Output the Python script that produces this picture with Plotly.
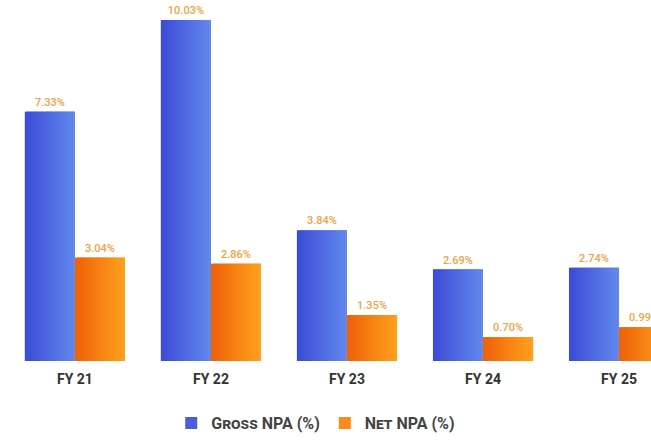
import plotly.graph_objects as go

# Asset quality by fiscal year
years = ["FY 21", "FY 22", "FY 23", "FY 24", "FY 25"]
gross_npa = [7.33, 10.03, 3.84, 2.69, 2.74]
net_npa = [3.04, 2.86, 1.35, 0.70, 0.99]

BAR_W = 0.368
N_STRIPES = 24


def blend(c1, c2, t):
    return "rgb({},{},{})".format(*[round(a + (b - a) * t) for a, b in zip(c1, c2)])


def add_series(fig, name, values, offset, dark, light, legend_color):
    labels = [f"{v:.2f}%" for v in values]
    # base bar carries the value label and the legend entry
    fig.add_trace(go.Bar(
        x=years, y=values, name=name, width=BAR_W, offset=offset,
        marker=dict(color=legend_color, line=dict(width=0)),
        text=labels, textposition="outside", cliponaxis=False,
        textfont=dict(color="#f2a246", size=11, family="Roboto", weight=500),
        hoverinfo="skip",
    ))
    # horizontal shading built from thin overlapping slices of the same bar
    sw = BAR_W / N_STRIPES
    for i in range(N_STRIPES):
        w = sw * 2 if i < N_STRIPES - 1 else sw
        fig.add_trace(go.Bar(
            x=years, y=values, width=w, offset=offset + i * sw,
            marker=dict(color=blend(dark, light, i / (N_STRIPES - 1)), line=dict(width=0)),
            showlegend=False, hoverinfo="skip",
        ))


fig = go.Figure()
add_series(fig, "Gross NPA (%)", gross_npa, -BAR_W, (60, 76, 214), (98, 136, 236), "#4a5fde")
add_series(fig, "Net NPA (%)", net_npa, 0.0, (238, 98, 8), (255, 160, 30), "#fb8c1c")

fig.update_layout(
    width=651, height=440,
    margin=dict(l=0, r=0, t=0, b=79),
    barmode="overlay",
    plot_bgcolor="white", paper_bgcolor="white",
    showlegend=True,
    legend=dict(
        orientation="h", x=0.485, xanchor="center", y=-0.125, yanchor="top",
        font=dict(family="Roboto", size=16, color="#444444", weight="bold", variant="small-caps"),
        itemwidth=30, tracegroupgap=0,
    ),
    xaxis=dict(
        range=[-0.551, 4.235], showgrid=False, zeroline=False, showline=False,
        ticks="", ticklabelstandoff=8,
        tickfont=dict(family="Roboto", size=14, color="#333333", weight="bold"),
    ),
    yaxis=dict(range=[0, 10.03 * 361 / 341], visible=False, showgrid=False, zeroline=False),
)

fig.write_html("out.html")
